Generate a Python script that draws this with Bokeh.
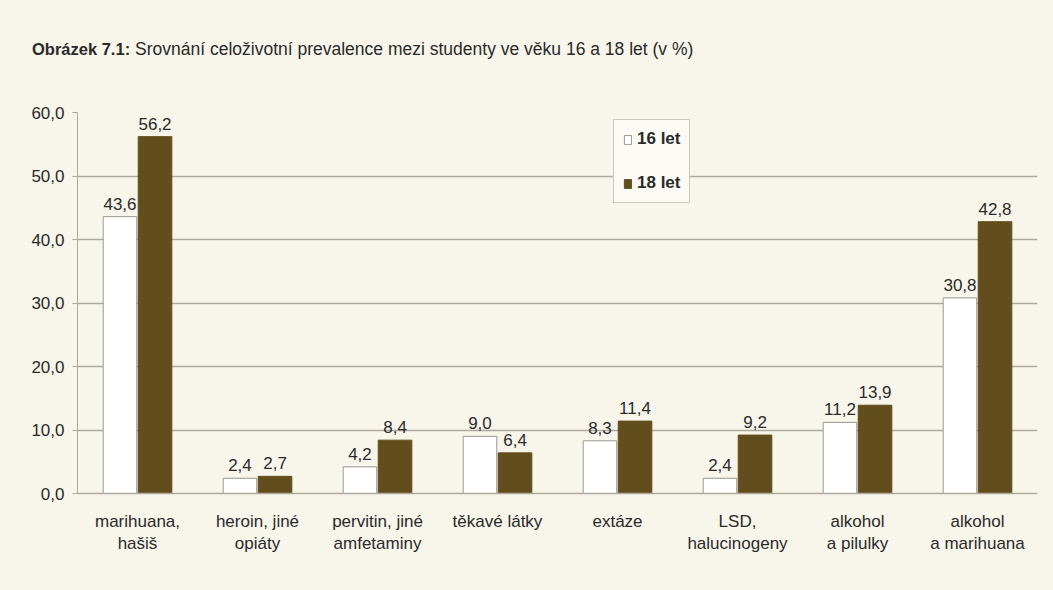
from bokeh.plotting import figure
from bokeh.models import FactorRange, FixedTicker, Legend, LegendItem, ColumnDataSource, Div
from bokeh.layouts import column
from bokeh.transform import dodge
from bokeh.core.properties import value
from bokeh.embed import file_html
from bokeh.resources import INLINE

categories = ["marihuana,\nhašiš", "heroin, jiné\nopiáty", "pervitin, jiné\namfetaminy",
              "těkavé látky", "extáze", "LSD,\nhalucinogeny", "alkohol\na pilulky",
              "alkohol\na marihuana"]
series_names = ["16 let", "18 let"]
values_16 = [43.6, 2.4, 4.2, 9.0, 8.3, 2.4, 11.2, 30.8]
values_18 = [56.2, 2.7, 8.4, 6.4, 11.4, 9.2, 13.9, 42.8]
y_ticks = [0, 10, 20, 30, 40, 50, 60]
y_tick_labels = ["0,0", "10,0", "20,0", "30,0", "40,0", "50,0", "60,0"]

title_bold = "Obrázek 7.1:"
title_rest = "Srovnání celoživotní prevalence mezi studenty ve věku 16 a 18 let (v %)"

def fmt(v):
    return f"{v:.1f}".replace(".", ",")

src = ColumnDataSource(dict(
    cat=categories, v16=values_16, v18=values_18,
    l16=[fmt(v) for v in values_16], l18=[fmt(v) for v in values_18],
))

BG = "#f8f5ea"
DARK = "#624e1c"
GRID = "#aeaa9e"
FONT = "Liberation Sans"
TXT = "#2a2a2a"
FS = "17px"
TITLE_H = 62

title_div = Div(
    text=(f'<div style="padding:40px 0 0 32px; font-family:\'Liberation Sans\'; '
          f'font-size:17.5px; line-height:18px; color:{TXT}; white-space:nowrap;">'
          f'<b style="font-size:16.5px;">{title_bold}</b> {title_rest}</div>'),
    width=1053, height=TITLE_H, margin=0,
    styles={"background-color": BG},
)

p = figure(x_range=FactorRange(factors=categories), y_range=(0, 60),
           width=1053, height=590 - TITLE_H, output_backend="svg", toolbar_location=None,
           min_border_left=77, min_border_right=16, min_border_top=112 - TITLE_H,
           min_border_bottom=97, margin=0,
           background_fill_color=BG, border_fill_color=BG, outline_line_color=None)

r16 = p.vbar(x=dodge("cat", -0.146, range=p.x_range), top="v16", width=0.28, source=src,
             fill_color="white", line_color="#9a978e", line_width=1)
r18 = p.vbar(x=dodge("cat", 0.146, range=p.x_range), top="v18", width=0.28, source=src,
             fill_color=DARK, line_color=DARK)

p.text(x=dodge("cat", -0.146, range=p.x_range), y="v16", text="l16", source=src,
       text_align="center", text_baseline="bottom", y_offset=-7,
       text_font=value(FONT), text_font_size=FS, text_color=TXT)
p.text(x=dodge("cat", 0.146, range=p.x_range), y="v18", text="l18", source=src,
       text_align="center", text_baseline="bottom", y_offset=-7,
       text_font=value(FONT), text_font_size=FS, text_color=TXT)

p.xgrid.grid_line_color = None
p.ygrid.grid_line_color = GRID
p.ygrid.grid_line_width = 1.5
p.yaxis.ticker = FixedTicker(ticks=y_ticks)
p.yaxis.major_label_overrides = dict(zip(y_ticks, y_tick_labels))
p.yaxis.axis_line_color = GRID
p.yaxis.major_tick_line_color = GRID
p.yaxis.major_tick_out = 5
p.yaxis.major_tick_in = 0
p.yaxis.minor_tick_line_color = None
p.yaxis.major_label_text_font = FONT
p.yaxis.major_label_text_font_size = FS
p.yaxis.major_label_text_color = TXT
p.yaxis.major_label_standoff = 8

p.xaxis.axis_line_color = GRID
p.xaxis.axis_line_width = 1.5
p.xaxis.major_tick_line_color = None
p.xaxis.major_label_text_font = FONT
p.xaxis.major_label_text_font_size = FS
p.xaxis.major_label_text_color = TXT
p.xaxis.major_label_standoff = 12

legend = Legend(items=[LegendItem(label=series_names[0], renderers=[r16]),
                       LegendItem(label=series_names[1], renderers=[r18])],
                location=(536, 290), orientation="vertical",
                glyph_width=9, glyph_height=11, spacing=24, padding=9,
                label_text_font=FONT, label_text_font_size=FS, label_text_font_style="bold",
                label_text_color=TXT, label_standoff=5,
                border_line_color="#9a978e", background_fill_color="#fbfaf4",
                background_fill_alpha=1)
p.add_layout(legend, "center")

layout = column(title_div, p, spacing=0, margin=0, styles={"background-color": BG})

open("out.html", "w").write(file_html(layout, INLINE))
